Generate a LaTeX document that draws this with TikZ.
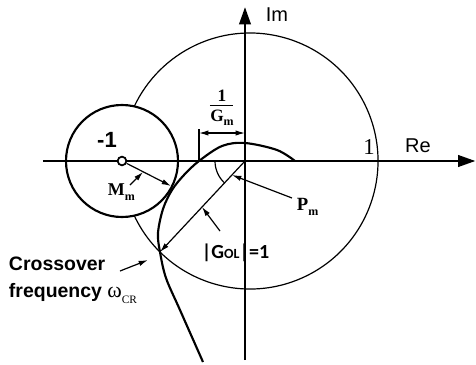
\documentclass[tikz,border=0pt]{standalone}
\usepackage{fontspec}
\setmainfont{Liberation Serif}
\setsansfont{Liberation Sans}
\newfontfamily\carlito{Carlito}
\usetikzlibrary{arrows.meta}
\newcommand\myfs[1]{\fontsize{#1}{#1}\selectfont}
\newcommand\mysub[2]{\raisebox{-0.28em}{\myfs{#1}#2}}
\begin{document}
\begin{tikzpicture}[x=0.75pt,y=0.75pt,
  axisline/.style={line width=2pt,-{Triangle[length=13pt,width=8.5pt]}},
  heavy/.style={line width=1.6pt},
  thinline/.style={line width=0.9pt},
  pointer/.style={line width=0.9pt,-{Latex[length=7pt,width=4pt]}},
  dimarrow/.style={line width=0.9pt,{Latex[length=7pt,width=4pt]}-{Latex[length=7pt,width=4pt]}},
  lbl/.style={inner sep=0pt,outer sep=0pt}]
\useasboundingbox (-245,-204) rectangle (231,161);
% key points
\coordinate (O) at (0,0);
\coordinate (xl) at (-202,0);
\coordinate (xr) at (230.5,0);
\coordinate (yb) at (0,-199);
\coordinate (yt) at (0,154);
\coordinate (m1) at (-123,0);
\coordinate (ucs) at (-110.75,-54.6);
\coordinate (cr) at (-85,-91);
\coordinate (T) at (-74,-25);
\coordinate (gm) at (-46,0);
\coordinate (gmtop) at (-46,32);
\coordinate (dl) at (-46,28);
\coordinate (dr) at (0,28);
\coordinate (fb1) at (-35,55.5);
\coordinate (fb2) at (-12,55.5);
\coordinate (pmtail) at (47,-37);
\coordinate (pmtip) at (-13,-14);
\coordinate (goltail) at (-25,-70);
\coordinate (goltip) at (-43,-46);
\coordinate (mmtail) at (-115,-24);
\coordinate (mmtip) at (-102,-11);
\coordinate (crtail) at (-125,-110);
\coordinate (crtip) at (-97,-99);
\coordinate (pma) at (-30,0);

% unit circle (not drawn inside the M_m circle)
\draw[thinline] (ucs) arc[start angle=-154.75,end angle=154.75,radius=128];

% M_m circle
\draw[heavy] (m1) circle[radius=56];

% axes
\draw[axisline] (xl) -- (xr);
\draw[axisline] (yb) -- (yt);

% Nyquist curve
\draw[heavy] plot[smooth,tension=0.55] coordinates {(50,0) (32,11) (0,18) (-23,15) (-46,0) (-61,-14) (-73,-29) (-82,-48) (-87,-72) (-85,-91) (-79,-117) (-65,-149) (-42,-201)};

% |G_OL| = 1 radius line
\draw[pointer] (O) -- (cr);

% phase margin arc
\draw[thinline] (pma) arc[start angle=180,end angle=227,radius=30];

% gain margin dimension
\draw[thinline] (gm) -- (gmtop);
\draw[dimarrow] (dl) -- (dr);
\draw[line width=0.8pt] (fb1) -- (fb2);

% M_m arrow
\node[circle,draw,fill=white,line width=1.3pt,minimum size=6.5pt,inner sep=0pt] (m1dot) at (m1) {};
\draw[pointer] (m1dot) -- (T);

% pointers
\draw[pointer] (mmtail) -- (mmtip);
\draw[pointer] (pmtail) -- (pmtip);
\draw[pointer] (goltail) -- (goltip);
\draw[pointer] (crtail) -- (crtip);

% labels
\node[lbl] (im) at (32,146) {\sffamily\myfs{15}Im};
\node[lbl] (re) at (173,15) {\sffamily\myfs{15}Re};
\node[lbl] (one) at (124,14) {\myfs{17}1};
\node[lbl] (mone) at (-138,21) {\sffamily\bfseries\myfs{16.5}-1};
\node[lbl] (fnum) at (-23,65) {\bfseries\myfs{13}1};
\node[lbl,anchor=base] (fden) at (-23,40) {\bfseries\myfs{13}G\mysub{9}{m}};
\node[lbl,anchor=base west] (mm) at (-137,-34) {\bfseries\myfs{13.5}M\mysub{9}{m}};
\node[lbl,anchor=base west] (pm) at (52,-49) {\bfseries\myfs{14}P\mysub{9}{m}};
\node[lbl,anchor=base west] (gol) at (-43,-97) {\carlito\bfseries\myfs{15}|G{\myfs{10.5}OL}|=1};
\node[lbl,anchor=base west] (cro) at (-236,-109) {\sffamily\bfseries\myfs{14.6}Crossover};
\node[lbl,anchor=base west] (freq) at (-236,-136) {\sffamily\bfseries\myfs{14.6}frequency {\rmfamily\mdseries\myfs{16.5}ω\mysub{8.5}{CR}}};
\end{tikzpicture}
\end{document}
